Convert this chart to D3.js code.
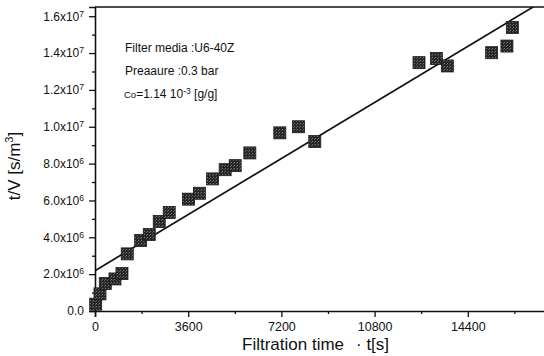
<!DOCTYPE html>
<html>
<head>
<meta charset="utf-8">
<script src="https://cdn.jsdelivr.net/npm/d3@7/dist/d3.min.js"></script>
<style>
  html, body { margin: 0; padding: 0; background: #fff; }
  svg { display: block; font-family: "Liberation Sans", Arial, sans-serif; }
</style>
</head>
<body>
<svg id="chart" width="544" height="356"></svg>
<script>
// Filtration time t [s] and t/V [s/m^3] measurements
const timeS = [27, 193, 397, 772, 1042, 1246, 1764, 2095, 2481, 2867, 3608, 4033, 4542, 5028, 5414, 5981, 7139, 7861, 8490, 12515, 13186, 13611, 15320, 15911, 16120];
const tOverV = [0.37e6, 0.93e6, 1.49e6, 1.74e6, 2.03e6, 3.10e6, 3.83e6, 4.15e6, 4.86e6, 5.35e6, 6.07e6, 6.39e6, 7.17e6, 7.67e6, 7.89e6, 8.58e6, 9.67e6, 10.0e6, 9.20e6, 13.48e6, 13.70e6, 13.30e6, 14.02e6, 14.38e6, 15.39e6];

// Linear fit endpoints
const fitT = [0, 17100];
const fitV = [2.19e6, 16.65e6];

// Axis ticks
const xTicks = [0, 3600, 7200, 10800, 14400];
const xMinorTicks = [1800, 5400, 9000, 12600, 16200];
const yTicks = [0, 2e6, 4e6, 6e6, 8e6, 10e6, 12e6, 14e6, 16e6];
const yMinorTicks = [1e6, 3e6, 5e6, 7e6, 9e6, 11e6, 13e6, 15e6];
const yTickLabels = [["0.0", ""], ["2.0x10", "6"], ["4.0x10", "6"], ["6.0x10", "6"], ["8.0x10", "6"], ["1.0x10", "7"], ["1.2x10", "7"], ["1.4x10", "7"], ["1.6x10", "7"]];

const svg = d3.select("#chart");
const plotLeft = 95, plotBottom = 311, plotTop = 7, plotRight = 561;

const x = d3.scaleLinear().domain([0, 18000]).range([plotLeft, plotRight]);
const y = d3.scaleLinear().domain([0, 16.5e6]).range([plotBottom, plotTop]);

const ink = "#111";
const fontFam = "Liberation Sans, Arial, sans-serif";

// halftone-like fill for the markers
const defs = svg.append("defs");
const pat = defs.append("pattern").attr("id", "dots")
  .attr("width", 3).attr("height", 3).attr("patternUnits", "userSpaceOnUse");
pat.append("rect").attr("width", 3).attr("height", 3).attr("fill", "#262626");
pat.append("rect").attr("x", 0).attr("y", 0).attr("width", 1).attr("height", 1).attr("fill", "#7a7a7a");
pat.append("rect").attr("x", 2).attr("y", 1).attr("width", 1).attr("height", 1).attr("fill", "#5a5a5a");

defs.append("clipPath").attr("id", "plotClip")
  .append("rect").attr("x", plotLeft).attr("y", plotTop)
  .attr("width", plotRight - plotLeft).attr("height", plotBottom - plotTop);

// Axes
const xAxis = svg.append("g").attr("transform", `translate(0,${plotBottom})`)
  .call(d3.axisBottom(x).tickValues(xTicks).tickSize(6).tickPadding(5).tickFormat(d3.format("d")));
svg.append("g").attr("transform", `translate(0,${plotBottom})`)
  .call(d3.axisBottom(x).tickValues(xMinorTicks).tickSize(3).tickFormat(""))
  .select(".domain").remove();

const yAxis = svg.append("g").attr("transform", `translate(${plotLeft},0)`)
  .call(d3.axisLeft(y).tickValues(yTicks).tickSize(6).tickPadding(5).tickFormat(""));
svg.append("g").attr("transform", `translate(${plotLeft},0)`)
  .call(d3.axisLeft(y).tickValues(yMinorTicks).tickSize(3).tickFormat(""))
  .select(".domain").remove();

svg.selectAll(".domain").attr("stroke", ink).attr("stroke-width", 1.6);
svg.selectAll(".tick line").attr("stroke", ink).attr("stroke-width", 1.3);
xAxis.selectAll(".tick text").attr("font-size", 12.5).attr("fill", ink)
  .attr("font-family", fontFam);

// y tick labels with superscript exponents
yAxis.selectAll(".tick").each(function (d, i) {
  const t = d3.select(this).select("text")
    .attr("font-size", 12).attr("fill", ink).attr("x", -11)
    .attr("font-family", fontFam).text(null);
  const [base, exp] = yTickLabels[i];
  t.append("tspan").text(base);
  if (exp) t.append("tspan").attr("font-size", 8.5).attr("dy", -4).text(exp);
});

// Top frame line
svg.append("line").attr("x1", plotLeft).attr("x2", 544).attr("y1", plotTop).attr("y2", plotTop)
  .attr("stroke", ink).attr("stroke-width", 1.6);

// Fit line
svg.append("line").attr("clip-path", "url(#plotClip)")
  .attr("x1", x(fitT[0])).attr("y1", y(fitV[0]))
  .attr("x2", x(fitT[1])).attr("y2", y(fitV[1]))
  .attr("stroke", ink).attr("stroke-width", 1.7);

// Markers
const s = 12;
svg.append("g").selectAll("rect").data(timeS).join("rect")
  .attr("x", (d) => x(d) - s / 2)
  .attr("y", (d, i) => y(tOverV[i]) - s / 2)
  .attr("width", s).attr("height", s)
  .attr("fill", "url(#dots)").attr("stroke", "#1a1a1a").attr("stroke-width", 0.8);

// Annotations
const ann = svg.append("g").attr("fill", ink).attr("font-size", 12).attr("font-family", fontFam);
ann.append("text").attr("x", 125).attr("y", 52).text("Filter media :U6-40Z");
ann.append("text").attr("x", 125).attr("y", 75).text("Preaaure :0.3 bar");
const c0 = ann.append("text").attr("x", 124).attr("y", 98);
c0.append("tspan").attr("font-size", 9.5).text("Co");
c0.append("tspan").text("=1.14 10");
c0.append("tspan").attr("font-size", 8.5).attr("dy", -4).text("-3");
c0.append("tspan").attr("dy", 4).text(" [g/g]");

// Axis titles
svg.append("text").attr("x", 242).attr("y", 350).attr("font-size", 17).attr("fill", ink)
  .attr("font-family", fontFam).text("Filtration time");
svg.append("text").attr("x", 356).attr("y", 350).attr("font-size", 17).attr("fill", ink)
  .attr("font-family", fontFam).text("\u00b7 t[s]");

const yt = svg.append("text").attr("transform", "translate(20,166) rotate(-90)")
  .attr("text-anchor", "middle").attr("font-size", 17).attr("fill", ink)
  .attr("font-family", fontFam);
yt.append("tspan").text("t/V [s/m");
yt.append("tspan").attr("font-size", 11).attr("dy", -7).text("3");
yt.append("tspan").attr("dy", 7).text("]");
</script>
</body>
</html>
